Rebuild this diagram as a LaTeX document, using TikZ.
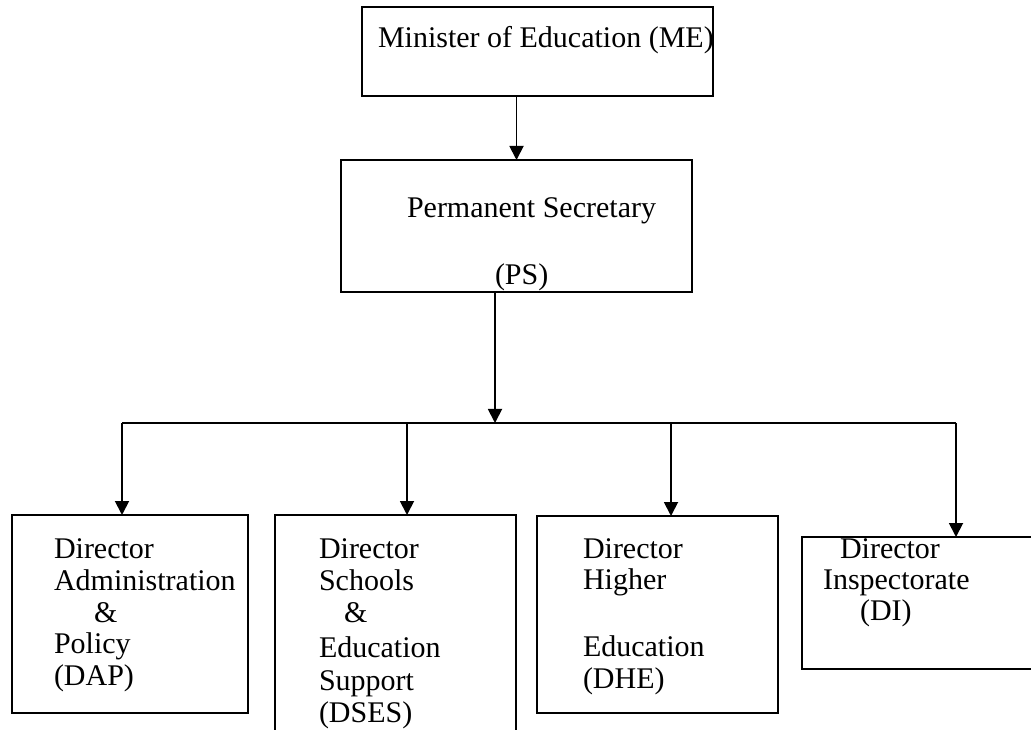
\documentclass[tikz,border=0pt]{standalone}
\usepackage{fontspec}
\setmainfont{Liberation Serif}
\usetikzlibrary{arrows.meta}
\begin{document}
\begin{tikzpicture}[x=0.75pt,y=-0.75pt,
  orgbox/.style={draw, line width=1.4pt, inner sep=0pt, outer sep=0pt, anchor=north west},
  lbl/.style={anchor=base west, inner sep=0pt, outer sep=0pt, font=\fontsize{22.5pt}{24pt}\selectfont},
  conn/.style={line width=1.4pt},
  arr/.style={conn, -{Triangle[length=10.5pt,width=10.5pt]}}]
\useasboundingbox (0,0) rectangle (1031,730);
\clip (0,0) rectangle (1031,730);
% boxes
\node[orgbox, minimum width=351*0.75pt, minimum height=89*0.75pt]  (me)   at (362,7)   {};
\node[orgbox, minimum width=351*0.75pt, minimum height=132*0.75pt] (ps)   at (341,160) {};
\node[orgbox, minimum width=236*0.75pt, minimum height=198*0.75pt] (dap)  at (12,515)  {};
\node[orgbox, minimum width=241*0.75pt, minimum height=230*0.75pt] (dses) at (275,515) {};
\node[orgbox, minimum width=241*0.75pt, minimum height=197*0.75pt] (dhe)  at (537,516) {};
\node[orgbox, minimum width=235*0.75pt, minimum height=132*0.75pt] (di)   at (802,537) {};
% texts
\node[lbl] (meT)  at (378,48)  {Minister of Education (ME)};
\node[lbl] (psT1) at (407,218) {Permanent Secretary};
\node[lbl] (psT2) at (495,285) {(PS)};
\node[lbl] (a1) at (54,558) {Director};
\node[lbl] (a2) at (54,590) {Administration};
\node[lbl] (a3) at (94,622) {\&};
\node[lbl] (a4) at (54,653) {Policy};
\node[lbl] (a5) at (54,685) {(DAP)};
\node[lbl] (s1) at (319,558) {Director};
\node[lbl] (s2) at (319,590) {Schools};
\node[lbl] (s3) at (344,622) {\&};
\node[lbl] (s4) at (319,657) {Education};
\node[lbl] (s5) at (319,690) {Support};
\node[lbl] (s6) at (319,722) {(DSES)};
\node[lbl] (h1) at (583,558) {Director};
\node[lbl] (h2) at (583,589) {Higher};
\node[lbl] (h3) at (583,656) {Education};
\node[lbl] (h4) at (583,688) {(DHE)};
\node[lbl] (i1) at (840,558) {Director};
\node[lbl] (i2) at (823,589) {Inspectorate};
\node[lbl] (i3) at (860,620) {(DI)};
% bus coordinates
\coordinate (bus) at (495,423);
\coordinate (b1) at (122,423);
\coordinate (b2) at (407,423);
\coordinate (b3) at (671,423);
\coordinate (b4) at (956,423);
% connectors
\draw[arr] (me.south -| ps.north) -- (ps.north);
\draw[arr] (ps.south -| bus) -- (bus);
\draw[conn] (b1) -- (b4);
\draw[arr] (b1) -- (dap.north -| b1);
\draw[arr] (b2) -- (dses.north -| b2);
\draw[arr] (b3) -- (dhe.north -| b3);
\draw[arr] (b4) -- (di.north -| b4);
\end{tikzpicture}
\end{document}
